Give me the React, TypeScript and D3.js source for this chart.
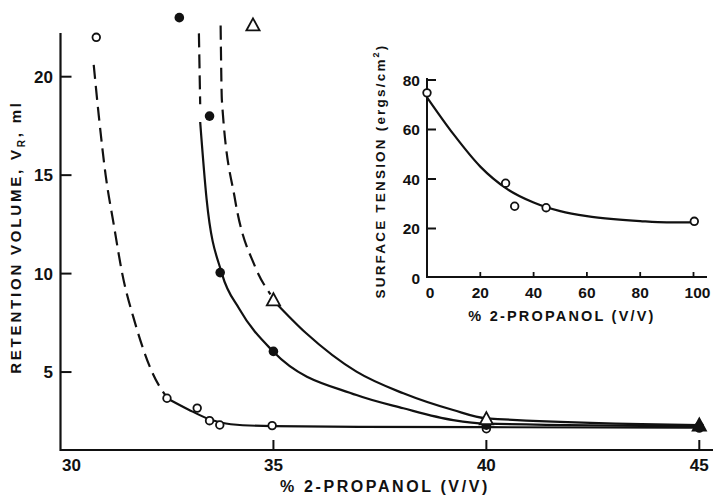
import React from "react";
import * as d3 from "d3";

// ---- Main chart data (x = % 2-propanol, y = retention volume ml)
const openPoints: [number, number][] = [
  [30.84, 22.0], [32.5, 3.67], [33.21, 3.17], [33.5, 2.53], [33.74, 2.31], [34.97, 2.28], [40, 2.12], [45, 2.15],
];
const filledPoints: [number, number][] = [
  [32.79, 23.0], [33.5, 18.0], [33.75, 10.05], [35, 6.05], [40, 2.3], [45, 2.24],
];
const trianglePoints: [number, number][] = [
  [34.52, 22.6], [35, 8.64], [40, 2.6], [45, 2.28],
];
const openDashed: [number, number][] = [
  [30.78, 20.6], [30.9, 18], [31.06, 15], [31.25, 12.5], [31.45, 10], [31.75, 7.5], [32.15, 5], [32.5, 3.7],
];
const openSolid: [number, number][] = [
  [32.5, 3.67], [33.0, 3.1], [33.5, 2.6], [34, 2.35], [35, 2.25], [37, 2.22], [40, 2.2], [45, 2.17],
];
const filledDashed: [number, number][] = [
  [33.25, 22.2], [33.28, 18.6],
];
const filledSolid: [number, number][] = [
  [33.28, 17.7], [33.43, 13.8], [33.79, 10.0], [34.2, 8.2], [35, 6.03], [36.95, 3.83],
  [38.05, 3.16], [39.22, 2.56], [40, 2.38], [45, 2.25],
];
const triDashed: [number, number][] = [
  [33.76, 22.6], [33.79, 18.8], [34.1, 13.74], [34.57, 10.35], [34.93, 8.95],
];
const triSolid: [number, number][] = [
  [35, 8.64], [35.77, 6.97], [36.95, 5.02], [38.05, 3.92], [39.22, 3.07], [40, 2.65], [45, 2.3],
];
const mainXTicks = [30, 35, 40, 45];
const mainYTicks = [5, 10, 15, 20];

// ---- Inset data (x = % 2-propanol, y = surface tension)
const insetPoints: [number, number][] = [
  [0, 74.8], [29.5, 38.3], [32.9, 29.0], [44.7, 28.4], [100.3, 22.9],
];
const insetCurve: [number, number][] = [
  [0, 73], [10, 58], [20, 45], [30, 36], [40, 30.5], [50, 27], [60, 25], [70, 23.8], [80, 23], [90, 22.5], [100, 22.5],
];
const insetXTicks = [0, 20, 40, 60, 80, 100];
const insetYTicks = [0, 20, 40, 60, 80];

const FONT = "'Liberation Sans', Arial, sans-serif";

export default function App() {
  const x = d3.scaleLinear().domain([30, 45]).range([60.5, 699.3]);
  const y = d3.scaleLinear().domain([0, 20]).range([470.5, 76.7]);
  const ix = d3.scaleLinear().domain([0, 100]).range([427, 693.5]);
  const iy = d3.scaleLinear().domain([0, 80]).range([278, 80]);

  const line = d3
    .line<[number, number]>()
    .x((d) => x(d[0]))
    .y((d) => y(d[1]))
    .curve(d3.curveMonotoneX);
  const iline = d3
    .line<[number, number]>()
    .x((d) => ix(d[0]))
    .y((d) => iy(d[1]))
    .curve(d3.curveMonotoneX);

  const axisBottom = 450;
  const axisTop = 33;
  const insetAxisY = 277;

  const tri = (cx: number, cy: number, s: number) =>
    `M${cx},${cy - s * 0.65} L${cx + s * 0.6},${cy + s * 0.45} L${cx - s * 0.6},${cy + s * 0.45} Z`;

  const dash = "14,7";

  return (
    <svg
      width={713}
      height={495}
      style={{ position: "absolute", left: 0, top: 0, background: "#fff" }}
      fontFamily={FONT}
    >
      <rect x={0} y={0} width={713} height={495} fill="#fff" />
      {/* Main axes */}
      <line x1={x(30)} x2={x(30)} y1={axisTop} y2={axisBottom + 1} stroke="#111" strokeWidth={2.2} />
      <line x1={x(30)} x2={713} y1={axisBottom} y2={axisBottom} stroke="#111" strokeWidth={2.2} />
      {mainYTicks.map((t) => (
        <g key={"my" + t}>
          <line x1={x(30)} x2={x(30) + 11} y1={y(t)} y2={y(t)} stroke="#111" strokeWidth={2} />
          <text x={53} y={y(t) + 6} textAnchor="end" fontSize={17} fontWeight="bold" fill="#111">
            {t}
          </text>
        </g>
      ))}
      {mainXTicks.map((t) => (
        <g key={"mx" + t}>
          {t !== 30 && (
            <line x1={x(t)} x2={x(t)} y1={axisBottom} y2={axisBottom - 10} stroke="#111" strokeWidth={2} />
          )}
          <text
            x={t === 30 ? x(t) + 11 : x(t)}
            y={471}
            textAnchor="middle"
            fontSize={17}
            fontWeight="bold"
            fill="#111"
          >
            {t}
          </text>
        </g>
      ))}
      <text x={385} y={492} textAnchor="middle" fontSize={16} fontWeight="bold" letterSpacing={2.6} fill="#111">
        % 2-PROPANOL (V/V)
      </text>
      <text
        transform={`translate(21,237) rotate(-90)`}
        textAnchor="middle"
        fontSize={15}
        fontWeight="bold"
        letterSpacing={2.8}
        fill="#111"
      >
        RETENTION VOLUME, V<tspan fontSize={10} dy={4}>R</tspan>
        <tspan dy={-4}>, ml</tspan>
      </text>

      {/* Main curves */}
      <g fill="none" stroke="#111" strokeWidth={2.2}>
        <path d={line(openDashed) || ""} strokeDasharray={dash} />
        <path d={line(openSolid) || ""} />
        <path d={line(filledDashed) || ""} strokeDasharray={dash} />
        <path d={line(filledSolid) || ""} />
        <path d={line(triDashed) || ""} strokeDasharray={dash} />
        <path d={line(triSolid) || ""} />
      </g>
      {/* Main markers */}
      {openPoints.map((p, i) => (
        <circle key={"op" + i} cx={x(p[0])} cy={y(p[1])} r={3.8} fill="#fff" stroke="#111" strokeWidth={1.8} />
      ))}
      {filledPoints.map((p, i) => (
        <circle key={"fp" + i} cx={x(p[0])} cy={y(p[1])} r={4.8} fill="#111" />
      ))}
      {trianglePoints.map((p, i) => (
        <path
          key={"tp" + i}
          d={tri(x(p[0]), y(p[1]), 11)}
          fill={i === trianglePoints.length - 1 ? "#111" : "#fff"}
          stroke="#111"
          strokeWidth={1.8}
        />
      ))}

      {/* Inset axes */}
      <line x1={ix(0)} x2={ix(0)} y1={78} y2={insetAxisY + 1} stroke="#111" strokeWidth={2} />
      <line x1={ix(0)} x2={707} y1={insetAxisY} y2={insetAxisY} stroke="#111" strokeWidth={2} />
      {insetYTicks.map((t) => (
        <g key={"iy" + t}>
          {t !== 0 && (
            <line x1={ix(0)} x2={ix(0) + 9} y1={iy(t)} y2={iy(t)} stroke="#111" strokeWidth={2} />
          )}
          <text x={420} y={iy(t) + 5.5} textAnchor="end" fontSize={15.5} fontWeight="bold" fill="#111">
            {t}
          </text>
        </g>
      ))}
      {insetXTicks.map((t) => (
        <g key={"ix" + t}>
          {t !== 0 && (
            <line x1={ix(t)} x2={ix(t)} y1={insetAxisY} y2={insetAxisY - 5} stroke="#111" strokeWidth={1.8} />
          )}
          <text x={ix(t) + (t === 0 ? 3 : t === 100 ? 4 : 0)} y={298} textAnchor="middle" fontSize={15.5} fontWeight="bold" fill="#111">
            {t}
          </text>
        </g>
      ))}
      <text x={562} y={321} textAnchor="middle" fontSize={14.5} fontWeight="bold" letterSpacing={2.2} fill="#111">
        % 2-PROPANOL (V/V)
      </text>
      <text
        transform={`translate(385,171) rotate(-90)`}
        textAnchor="middle"
        fontSize={13.5}
        fontWeight="bold"
        letterSpacing={2.2}
        fill="#111"
      >
        SURFACE TENSION (ergs/cm<tspan fontSize={9} dy={-6}>2</tspan>
        <tspan dy={6}>)</tspan>
      </text>
      <path d={iline(insetCurve) || ""} fill="none" stroke="#111" strokeWidth={2.2} />
      {insetPoints.map((p, i) => (
        <circle key={"ip" + i} cx={ix(p[0])} cy={iy(p[1])} r={3.8} fill="#fff" stroke="#111" strokeWidth={1.8} />
      ))}
    </svg>
  );
}
